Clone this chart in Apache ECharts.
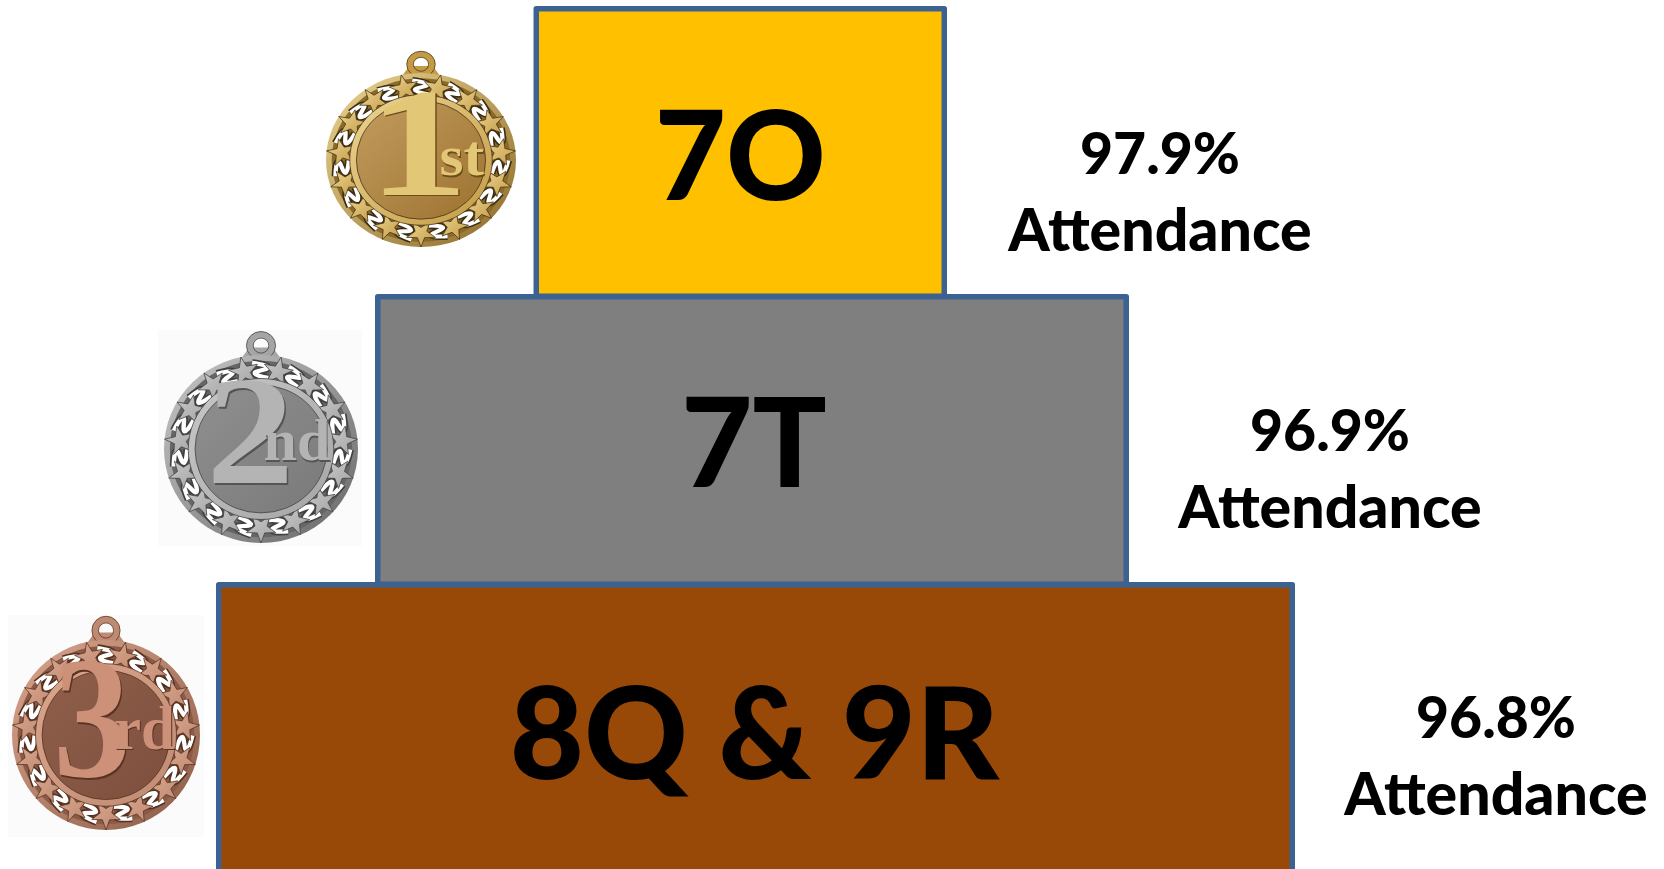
<!DOCTYPE html>
<html>
<head>
<meta charset="utf-8" />
<title>Attendance podium</title>
<script src="https://cdn.jsdelivr.net/npm/echarts@6/dist/echarts.min.js"></script>
<style>
  html, body { margin: 0; padding: 0; background: #fff; overflow: hidden; }
  /* a bit taller than the window: the lowest step runs off the bottom */
  #chart { width: 1664px; height: 880px; }
</style>
</head>
<body>
<div id="chart"></div>
<script>
// bottom row first, a category axis draws upwards
const classes = ["8Q & 9R", "7T", "7O"];
const podiumStart = [216, 375, 533.5];
const podiumWidth = [1079, 754, 413.5];
const attendance = ["96.8%", "96.9%", "97.9%"];
const attendanceWord = "Attendance";
const attendanceGap = [402, 402, 426];
const podiumColors = ["#984807", "#7f7f7f", "#ffc000"];
const edgeColor = "#3c6291";

const chart = echarts.init(document.getElementById("chart"));

// decoration only: the medal pictures of the original, drawn from shapes
function starPoints(cx, cy, outer, inner, rot) {
  const pts = [];
  for (let i = 0; i < 10; i++) {
    const r = i % 2 ? inner : outer;
    const a = rot + (i * Math.PI) / 5;
    pts.push([cx + r * Math.sin(a), cy - r * Math.cos(a)]);
  }
  return pts;
}

function grad(a, b) {
  return new echarts.graphic.LinearGradient(0, 0, 1, 1, [
    { offset: 0, color: a },
    { offset: 1, color: b },
  ]);
}

function polar(r, a) {
  return [r * Math.sin(a), -r * Math.cos(a)];
}

function medal(m) {
  const p = m.palette;
  const kids = [];
  // loop on top
  kids.push({ type: "polygon", shape: { points: [[-25, -90], [25, -90], [12, -108], [-12, -108]] }, style: { fill: p.rim } });
  kids.push({ type: "ring", shape: { cx: 0, cy: -110, r: 15, r0: 8 }, style: { fill: p.rim, stroke: p.dark, lineWidth: 0.8 } });
  // rim and open band
  kids.push({ type: "circle", shape: { cx: 0, cy: 0, r: 100 }, style: { fill: grad(p.light, p.rimDark) } });
  kids.push({ type: "ring", shape: { cx: 0, cy: 0, r: 94, r0: 72 }, style: { fill: p.rimDark } });
  for (let k = 0; k < 15; k++) {
    const a = ((k * 24 + 24) * Math.PI) / 180;
    const wave = [polar(92, a - 0.1), polar(87, a + 0.08), polar(81, a - 0.08), polar(76, a + 0.1)];
    kids.push({ type: "polyline", shape: { points: wave, smooth: 0.5 }, style: { stroke: p.dark, lineWidth: 8, fill: "none" } });
    kids.push({ type: "polyline", shape: { points: wave, smooth: 0.5 }, style: { stroke: "#ffffff", lineWidth: 4.5, fill: "none" } });
  }
  for (let k = 0; k < 15; k++) {
    const a = ((k * 24 + 12) * Math.PI) / 180;
    const c = polar(84, a);
    kids.push({
      type: "polygon",
      shape: { points: starPoints(c[0], c[1], 16, 6.5, a) },
      style: { fill: grad(p.light, p.rim), stroke: p.dark, lineWidth: 0.8 },
    });
  }
  // inner ring and face
  kids.push({ type: "circle", shape: { cx: 0, cy: 0, r: 75 }, style: { fill: grad(p.light, p.rim), stroke: p.dark, lineWidth: 0.8 } });
  kids.push({ type: "circle", shape: { cx: 0, cy: 0, r: 68 }, style: { fill: grad(p.face, p.faceDark), stroke: p.dark, lineWidth: 0.8 } });
  // numeral, dark copy underneath for the raised look
  const numeralStyle = { fontFamily: "Liberation Serif", fontWeight: "bold", fontSize: m.numSize, textAlign: "center", textVerticalAlign: "middle" };
  const suffixStyle = { fontFamily: "Liberation Serif", fontWeight: "bold", fontSize: m.sufSize, textAlign: "center", textVerticalAlign: "middle" };
  kids.push({ type: "text", x: m.numX + 1.5, y: m.numY + 2, scaleX: m.numStretch, style: { ...numeralStyle, text: m.num, fill: p.shade } });
  kids.push({ type: "text", x: m.numX, y: m.numY, scaleX: m.numStretch, style: { ...numeralStyle, text: m.num, fill: p.numeral } });
  kids.push({ type: "text", x: m.sufX + 1, y: m.sufY + 1.5, style: { ...suffixStyle, text: m.suffix, fill: p.shade } });
  kids.push({ type: "text", x: m.sufX, y: m.sufY, style: { ...suffixStyle, text: m.suffix, fill: p.numeral } });
  return { type: "group", x: m.cx, y: m.cy, scaleX: m.rx / 100, scaleY: m.ry / 100, children: kids };
}

const gold = { rim: "#c49a45", rimDark: "#8b6a28", light: "#ecd592", dark: "#3c2c12", face: "#c39c5e", faceDark: "#9c7230", numeral: "#e2c777", shade: "#6d4d18" };
const silver = { rim: "#a5a5a5", rimDark: "#666666", light: "#c8c8c8", dark: "#404040", face: "#8f8f8f", faceDark: "#7a7a7a", numeral: "#b4b4b4", shade: "#555555" };
const bronze = { rim: "#bf8a72", rimDark: "#8a5a46", light: "#dba68e", dark: "#55301f", face: "#8f5f4b", faceDark: "#7d4f3c", numeral: "#cd9078", shade: "#5a3323" };

const option = {
  animation: false,
  backgroundColor: "#ffffff",
  grid: { left: 0, top: 8.5, width: 1664, height: 864 },
  xAxis: { type: "value", min: 0, max: 1664, show: false },
  yAxis: { type: "category", data: classes, show: false },
  graphic: [
    { type: "rect", shape: { x: 158, y: 330, width: 204, height: 216 }, style: { fill: "#fbfbfb" } },
    { type: "rect", shape: { x: 8, y: 615, width: 196, height: 222 }, style: { fill: "#fbfbfb" } },
    medal({ palette: gold, cx: 421, cy: 160, rx: 95, ry: 87, num: "1", suffix: "st", numSize: 177, numStretch: 1.2, numX: -3, numY: -6, sufSize: 65, sufX: 43, sufY: 1 }),
    medal({ palette: silver, cx: 261, cy: 449, rx: 97, ry: 94, num: "2", suffix: "nd", numSize: 165, numStretch: 1.1, numX: -11, numY: -6, sufSize: 62, sufX: 37, sufY: -4 }),
    medal({ palette: bronze, cx: 106, cy: 735, rx: 94, ry: 95, num: "3", suffix: "rd", numSize: 183, numStretch: 0.9, numX: -15, numY: -4, sufSize: 65, sufX: 41, sufY: -2 }),
  ],
  series: [
    {
      name: "offset",
      type: "bar",
      stack: "podium",
      barWidth: 293,
      clip: false,
      silent: true,
      itemStyle: { color: "transparent" },
      data: podiumStart,
    },
    {
      name: "podium",
      type: "bar",
      stack: "podium",
      barWidth: 293,
      clip: false,
      data: podiumWidth.map((v, i) => ({
        value: v,
        itemStyle: { color: podiumColors[i] },
        label: { offset: [[-1, 9], [2, 7], [0, 8]][i], fontSize: [128, 123, 123][i] },
      })),
      itemStyle: { borderColor: edgeColor, borderWidth: 5.5, borderJoin: "round" },
      label: {
        show: true,
        position: "inside",
        formatter: (p) => classes[p.dataIndex],
        fontFamily: "Lato",
        fontWeight: 900,
        color: "#000000",
      },
    },
    {
      // invisible step to the right of each bar, only carries the attendance text
      name: "attendance",
      type: "bar",
      stack: "podium",
      barWidth: 293,
      clip: false,
      silent: true,
      itemStyle: { color: "transparent" },
      data: attendanceGap.map((v, i) => ({
        value: v,
        label: { offset: [0, [29, 30, 41][i]] },
      })),
      label: {
        show: true,
        position: "inside",
        formatter: (p) => "{pct|" + attendance[p.dataIndex] + "}\n{word|" + attendanceWord + "}",
        rich: {
          pct: { fontFamily: "Lato", fontWeight: 900, fontSize: 57, lineHeight: 76, align: "center", color: "#000000" },
          word: { fontFamily: "Lato", fontWeight: 900, fontSize: 59, lineHeight: 76, align: "center", color: "#000000" },
        },
      },
    },
  ],
};

chart.setOption(option);
window.addEventListener("resize", function () {
  chart.resize();
});
</script>
</body>
</html>
